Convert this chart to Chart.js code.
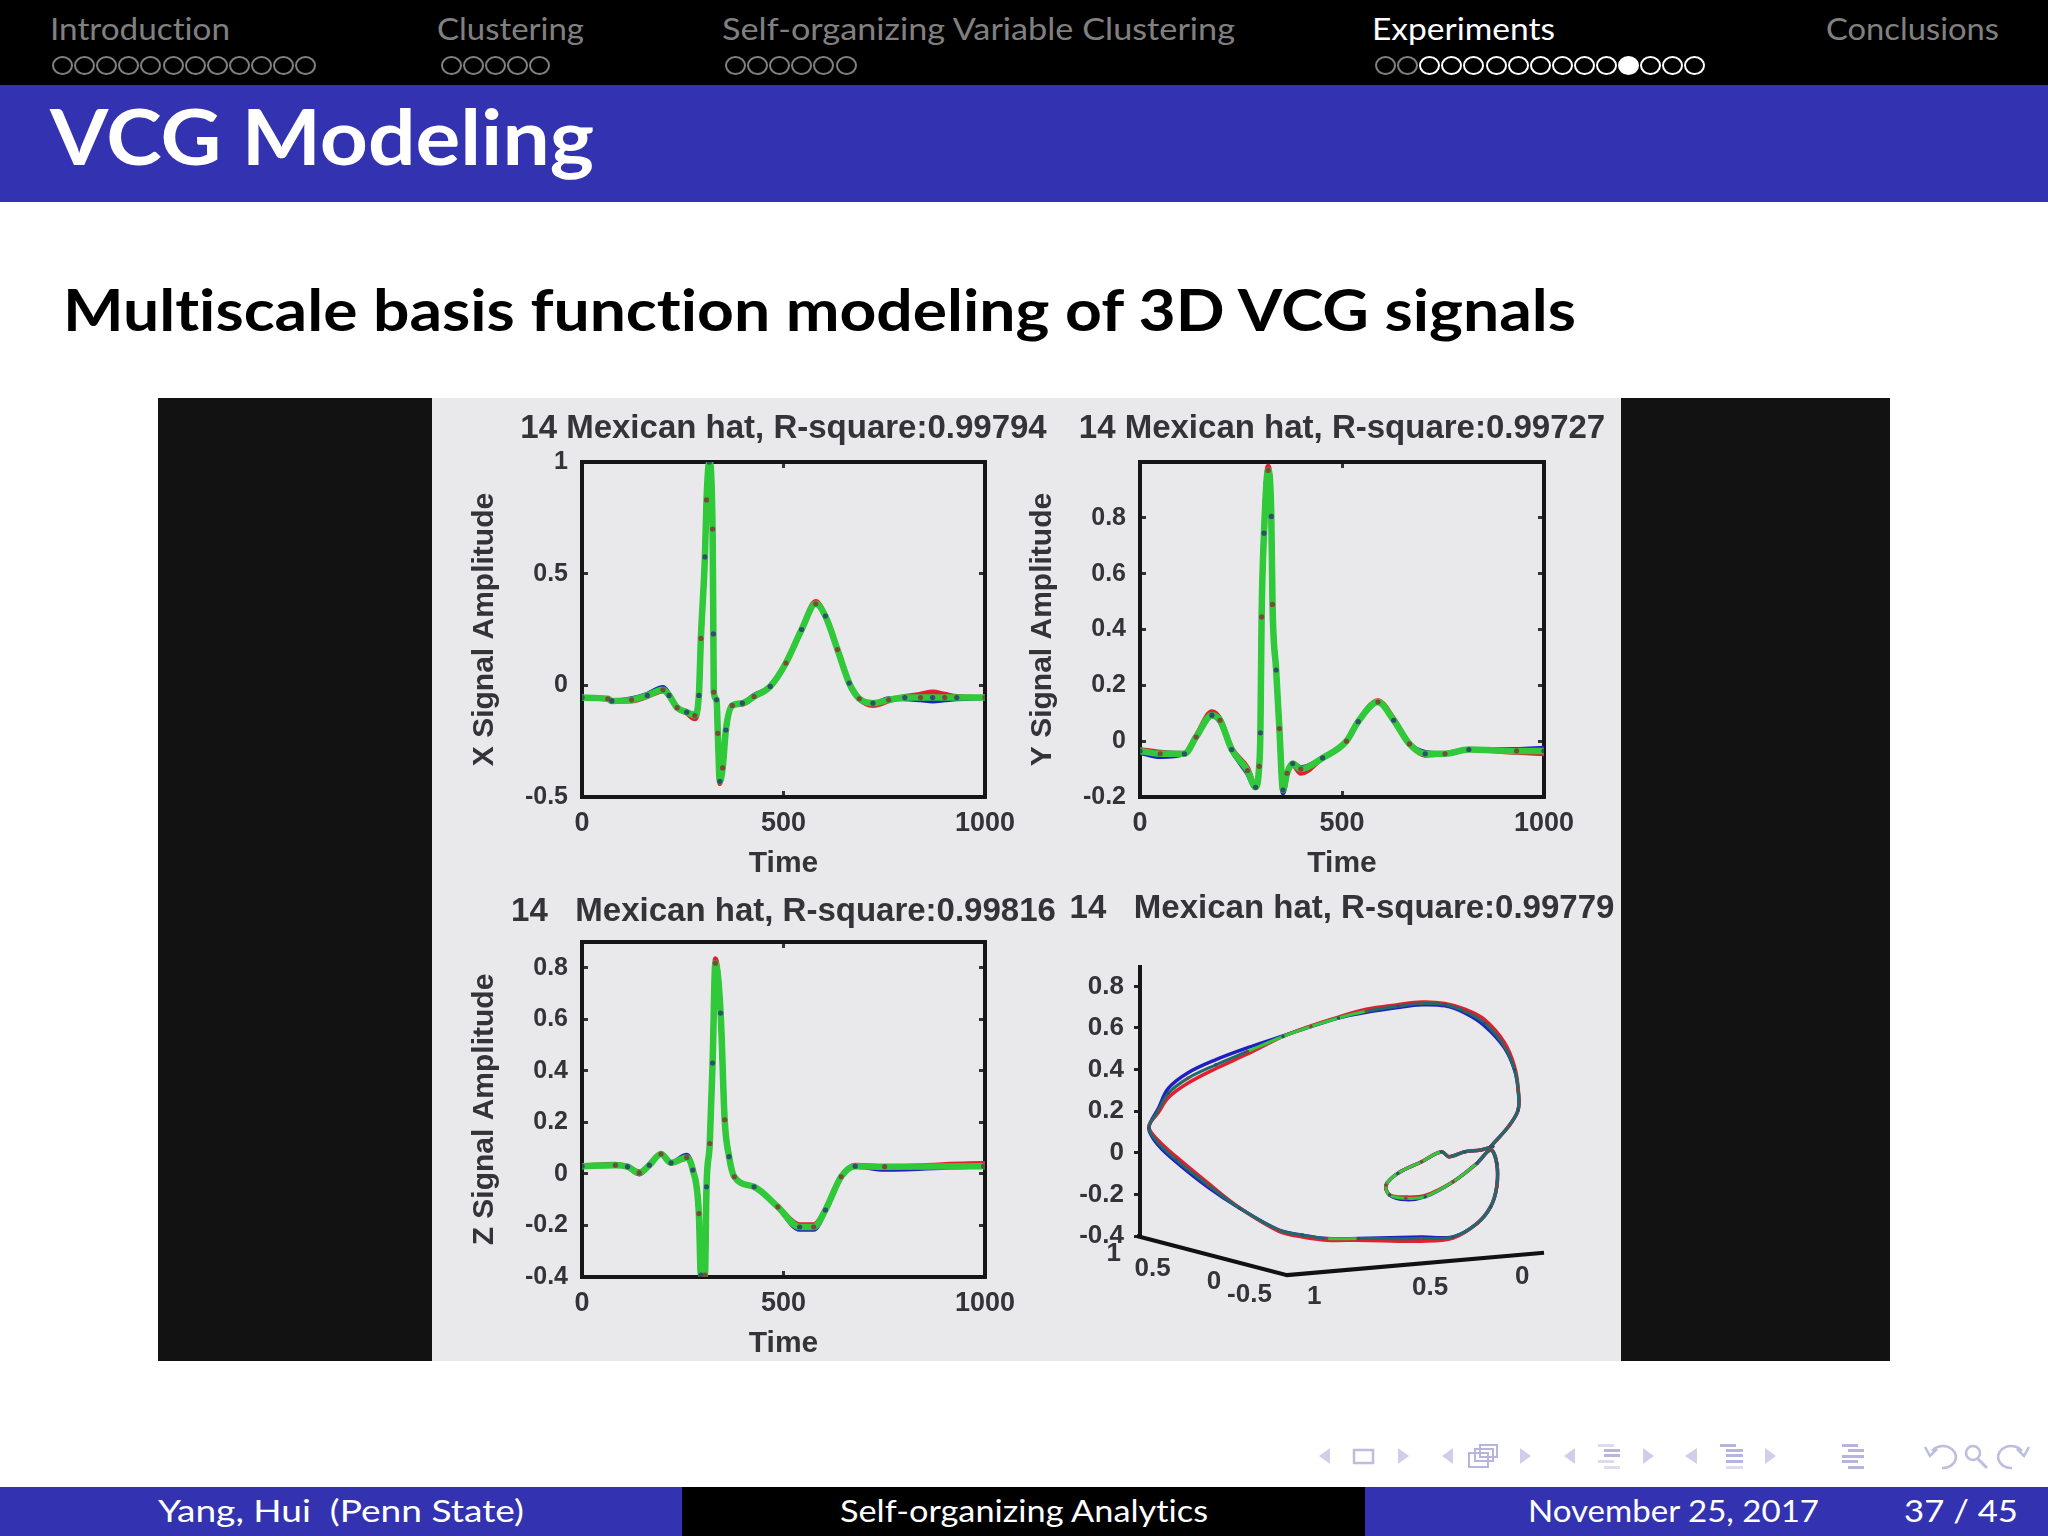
<!DOCTYPE html>
<html><head><meta charset="utf-8">
<script src="https://cdn.jsdelivr.net/npm/chart.js@4"></script>
<style>
html,body{margin:0;padding:0;background:#fff;}
#slide{position:relative;width:2048px;height:1536px;overflow:hidden;background:#fff;font-family:Lato,"Open Sans",sans-serif;font-variant-ligatures:none;}
.box{position:absolute;}
.lab{position:absolute;white-space:pre;transform-origin:left center;line-height:1;}
.dot{position:absolute;box-sizing:border-box;width:21px;height:19px;border-radius:50%;border:2px solid #808080;top:56px;}
canvas{position:absolute;filter:blur(0.7px);}
</style></head><body>
<div id="slide">
<div class="box" style="left:0;top:0;width:2048px;height:85px;background:#000"></div>
<div class="box" style="left:0;top:85px;width:2048px;height:117px;background:#3333b2"></div>
<div class="box" style="left:158px;top:398px;width:1732px;height:963px;background:#121212"></div>
<div class="box" style="left:432px;top:398px;width:1189px;height:963px;background:#e9e9eb"></div>
<div class="box" style="left:0;top:1487px;width:682px;height:49px;background:#3333b2"></div>
<div class="box" style="left:682px;top:1487px;width:683px;height:49px;background:#000"></div>
<div class="box" style="left:1365px;top:1487px;width:683px;height:49px;background:#3333b2"></div>
<svg class="box" style="left:0;top:0" width="2048" height="1536" fill="#cfcfe9" stroke="none">
 <g><path d="M1330 1448L1319 1456L1330 1464Z"/><rect x="1354" y="1450" width="19" height="13" fill="none" stroke="#bdbde0" stroke-width="2.5"/><path d="M1398 1448L1409 1456L1398 1464Z"/></g>
 <g><path d="M1453 1448L1442 1456L1453 1464Z"/><rect x="1469" y="1453" width="19" height="14" fill="#fff" stroke="#b5b5de" stroke-width="2"/><rect x="1475" y="1449" width="18" height="12" fill="none" stroke="#b5b5de" stroke-width="2"/><rect x="1480" y="1445" width="17" height="12" fill="none" stroke="#b5b5de" stroke-width="2"/><path d="M1520 1448L1531 1456L1520 1464Z"/></g>
 <g><path d="M1575 1448L1564 1456L1575 1464Z"/><rect x="1598" y="1444" width="16" height="3" fill="#dcdcee"/><rect x="1604" y="1449" width="16" height="3" fill="#b5b5de"/><rect x="1604" y="1454" width="16" height="3" fill="#b5b5de"/><rect x="1598" y="1460" width="16" height="3" fill="#dcdcee"/><rect x="1604" y="1466" width="16" height="3" fill="#dcdcee"/><path d="M1643 1448L1654 1456L1643 1464Z"/></g>
 <g><path d="M1697 1448L1685 1456L1697 1464Z"/><rect x="1720" y="1444" width="16" height="3" fill="#b5b5de"/><rect x="1726" y="1449" width="17" height="3" fill="#b5b5de"/><rect x="1726" y="1454" width="17" height="3" fill="#b5b5de"/><rect x="1726" y="1460" width="17" height="3" fill="#b5b5de"/><rect x="1726" y="1466" width="17" height="3" fill="#dcdcee"/><path d="M1765 1448L1776 1456L1765 1464Z"/></g>
 <g fill="#b5b5de"><rect x="1842" y="1444" width="16" height="3"/><rect x="1848" y="1449" width="16" height="3"/><rect x="1842" y="1455" width="22" height="3"/><rect x="1842" y="1460" width="16" height="3"/><rect x="1848" y="1466" width="16" height="3"/></g>
 <g fill="none" stroke="#bdbde0" stroke-width="2.5"><path d="M1932 1451A13 11 0 1 1 1942 1468"/><path d="M1925 1447L1930 1456L1937 1449"/><ellipse cx="1973" cy="1453" rx="7" ry="7"/><path d="M1978 1459L1987 1468" stroke-width="3"/><path d="M2022 1451A13 11 0 1 0 2012 1468"/><path d="M2029 1447L2024 1456L2017 1449"/></g>
</svg>
<canvas id="c1" width="701" height="480" style="left:433px;top:405px"></canvas>
<canvas id="c2" width="702" height="480" style="left:991px;top:405px"></canvas>
<canvas id="c3" width="701" height="482" style="left:433px;top:885px"></canvas>
<canvas id="c4" width="702" height="476" style="left:991px;top:885px"></canvas>
</div>
<script>
// ---------- panel 1: X signal ----------
const t1   =[0,64,74,123,162,201,216,236,260,280,290,295,305,309,316,324,326,327,334,337,342,349,357,373,398,427,467,506,545,580,604,634,663,688,722,761,801,840,870,900,930,1000];
const fit1 =[-.055,-.06,-.07,-.065,-.045,-.02,-.045,-.10,-.12,-.135,-.045,.21,.575,.83,1.0,.70,.23,-.03,-.065,-.215,-.43,-.37,-.2,-.09,-.08,-.05,-.005,.10,.25,.365,.31,.16,.01,-.06,-.08,-.065,-.055,-.055,-.055,-.055,-.055,-.055];
const sig1 =[-.055,-.06,-.07,-.06,-.04,-.01,-.04,-.10,-.12,-.13,-.045,.21,.575,.83,1.0,.70,.23,-.03,-.065,-.215,-.43,-.37,-.2,-.09,-.08,-.045,-.005,.10,.25,.365,.31,.16,.01,-.06,-.085,-.06,-.06,-.065,-.07,-.065,-.06,-.055];
const rec1 =[-.055,-.06,-.07,-.07,-.05,-.025,-.045,-.10,-.125,-.15,-.045,.21,.58,.83,1.0,.70,.23,-.03,-.065,-.215,-.44,-.37,-.2,-.09,-.085,-.05,-.005,.10,.25,.375,.31,.16,.01,-.06,-.09,-.07,-.05,-.04,-.03,-.04,-.05,-.055];
// ---------- panel 2: Y signal ----------
const t2   =[0,50,110,139,178,198,227,266,286,295,298,301,307,317,325,328,337,345,354,364,378,398,452,511,540,589,628,667,706,755,814,932,1000];
const fit2 =[-.035,-.045,-.045,.015,.093,.075,-.03,-.105,-.165,-.09,.03,.445,.745,.97,.805,.49,.255,.045,-.175,-.115,-.08,-.1,-.06,0,.07,.14,.075,-.01,-.045,-.045,-.03,-.035,-.035];
const sig2 =[-.04,-.055,-.045,.015,.09,.07,-.03,-.115,-.165,-.09,.03,.445,.76,.97,.805,.5,.255,.045,-.185,-.115,-.08,-.095,-.06,0,.07,.14,.075,-.01,-.04,-.045,-.03,-.03,-.025];
const rec2 =[-.03,-.04,-.045,.02,.105,.08,-.025,-.095,-.16,-.09,.03,.445,.745,.985,.80,.49,.255,.045,-.175,-.115,-.085,-.115,-.06,0,.07,.145,.08,-.01,-.05,-.045,-.03,-.04,-.045];
// ---------- panel 3: Z signal ----------
const t3   =[0,83,113,142,167,196,221,260,275,290,295,305,309,317,324,331,344,354,365,378,427,486,540,575,604,643,678,751,997,1000];
const fit3 =[.03,.034,.028,.004,.034,.077,.043,.064,.015,-.154,-.393,-.393,-.05,.118,.43,.818,.624,.21,.067,-.011,-.05,-.128,-.206,-.206,-.14,-.011,.03,.028,.03,.03];
const sig3 =[.03,.034,.028,0,.034,.077,.043,.072,.015,-.154,-.4,-.4,-.05,.118,.43,.818,.624,.21,.067,-.011,-.05,-.128,-.215,-.215,-.14,-.011,.03,.018,.03,.03];
const rec3 =[.03,.038,.028,.008,.034,.077,.043,.06,.015,-.154,-.39,-.39,-.05,.118,.43,.835,.624,.21,.067,-.011,-.05,-.128,-.197,-.197,-.14,-.011,.034,.028,.04,.04];
// ---------- panel 4: 3D loop, projected ----------
const px4  =[868,912,936,936,927,902,853,804,755,697,638,560,491,423,354,266,188,119,70,46,22,46,90,168,247,344,403,462,540,697,775,834,868,883,883,868,834,775,706,658,618,609,638,697,746,765,804,843,873];
const fit4 =[.03,.126,.206,.302,.399,.511,.623,.68,.712,.717,.704,.68,.648,.607,.559,.487,.423,.359,.286,.206,.118,.046,-.035,-.155,-.267,-.372,-.396,-.412,-.412,-.412,-.404,-.34,-.259,-.163,-.051,.013,-.051,-.139,-.211,-.219,-.203,-.155,-.099,-.043,.005,-.019,.005,.013,.03];
const sig4 =[.03,.126,.206,.302,.399,.505,.61,.672,.706,.711,.698,.675,.648,.607,.562,.505,.448,.385,.31,.215,.118,.035,-.045,-.165,-.267,-.372,-.396,-.412,-.412,-.405,-.404,-.34,-.259,-.163,-.051,.013,-.051,-.139,-.211,-.225,-.203,-.155,-.099,-.043,.005,-.019,.005,.013,.03];
const rec4 =[.03,.126,.206,.31,.415,.53,.64,.69,.718,.725,.712,.69,.652,.61,.559,.475,.405,.335,.265,.195,.125,.058,-.02,-.145,-.265,-.378,-.405,-.42,-.42,-.425,-.41,-.34,-.259,-.163,-.051,.013,-.051,-.139,-.205,-.213,-.203,-.155,-.099,-.043,.005,-.019,.005,.013,.03];
const floorX =[-8,364,1000];
const floorZ =[-.4,-.588,-.481];
const floorText =['1','0.5','0','-0.5','1','0.5','0'];
const floorTickX=[-65,31,183,271,431,718,946];
const floorTickZ=[-.484,-.556,-.62,-.685,-.693,-.648,-.596];
// ---------- tick labels and captions ----------
const xTicks=[0,500,1000];
const yTicks1=[-.5,0,.5,1];
const yTicks2=[-.2,0,.2,.4,.6,.8];
const yTicks3=[-.4,-.2,0,.2,.4,.6,.8];
const titles=['14 Mexican hat, R-square:0.99794','14 Mexican hat, R-square:0.99727','14   Mexican hat, R-square:0.99816','14   Mexican hat, R-square:0.99779'];
const yTitles=['X Signal Amplitude','Y Signal Amplitude','Z Signal Amplitude'];
const sectionNames=['Introduction','Clustering','Self-organizing Variable Clustering','Experiments','Conclusions'];
const sectionDots=[12,5,6,15,0];

const FF='"Liberation Sans",Arial,sans-serif', INK='#333338';
const GREEN='#2fc93a', BLUE='#2020c0', RED='#e02030', TEAL='#1f6a6a';
Chart.defaults.animation=false;
const pts=(a,b)=>a.map((x,i)=>({x,y:b[i]}));
const setTicks=arr=>s=>{s.ticks=arr.map(value=>({value}));};
const knotCol=c=>c.dataIndex%2?'#7a4a3a':'#2f4f6a';
const smooth={cubicInterpolationMode:'monotone',borderJoinStyle:'round',borderCapStyle:'round',pointRadius:0};
function series(x,f,s,r,lw,lwBack){
  return [
   {label:'knots',data:pts(x,f),showLine:false,pointRadius:2.6,pointBackgroundColor:knotCol,pointBorderWidth:0},
   {label:'fit',data:pts(x,f),borderColor:GREEN,borderWidth:lw,...smooth},
   {label:'model',data:pts(x,r),borderColor:RED,borderWidth:lwBack,...smooth},
   {label:'signal',data:pts(x,s),borderColor:BLUE,borderWidth:lwBack,...smooth}
  ];
}
function titleOpt(text,top,bottom){
  return {display:true,text,color:INK,font:{family:FF,size:33,weight:'bold',lineHeight:1.2},padding:{top,bottom}};
}
const gridOpt={drawOnChartArea:false,tickLength:-6,tickWidth:3,tickColor:'#333'};
const bord={display:true,color:'#161616',width:4};
function panel(id,x,f,s,r,yMin,yMax,yT,title,yTitle,pTop,pBot,botH,timePad){
  new Chart(document.getElementById(id),{type:'line',
   data:{datasets:series(x,f,s,r,6.5,5)},
   options:{responsive:false,devicePixelRatio:1,
    plugins:{legend:{display:false},tooltip:{enabled:false},title:titleOpt(title,pTop,pBot)},
    scales:{
     x:{type:'linear',position:'bottom',min:0,max:1000,afterBuildTicks:setTicks(xTicks),afterFit:a=>{a.height=botH;},
        grid:gridOpt,border:bord,
        ticks:{color:INK,font:{family:FF,size:27,weight:'bold'},padding:16,maxRotation:0,autoSkip:false,callback:v=>String(v)},
        title:{display:true,text:'Time',color:INK,font:{family:FF,size:30,weight:'bold',lineHeight:1.2},padding:timePad}},
     xt:{type:'linear',position:'top',min:0,max:1000,afterBuildTicks:setTicks([500]),afterFit:a=>{a.height=0;},
        grid:gridOpt,border:bord,ticks:{display:false}},
     y:{type:'linear',position:'left',min:yMin,max:yMax,afterBuildTicks:setTicks(yT),afterFit:a=>{a.width=149;},
        grid:gridOpt,border:bord,
        ticks:{color:INK,font:{family:FF,size:25,weight:'bold'},padding:20,autoSkip:false,callback:v=>String(v)},
        title:{display:true,text:yTitle,color:INK,font:{family:FF,size:30,weight:'bold',lineHeight:1.2},padding:34}},
     yr:{type:'linear',position:'right',min:yMin,max:yMax,afterBuildTicks:setTicks(yT),afterFit:a=>{a.width=149;},
        grid:gridOpt,border:bord,ticks:{display:false}}
    }}});
}
panel('c1',t1,fit1,sig1,rec1,-.5,1,yTicks1,titles[0],yTitles[0],4,13.4,88,3);
panel('c2',t2,fit2,sig2,rec2,-.2,1,yTicks2,titles[1],yTitles[1],4,13.4,88,3);
panel('c3',t3,fit3,sig3,rec3,-.4,.9,yTicks3,titles[2],yTitles[2],7,10.4,90,5);

const floorLabels={id:'floorLabels',afterDatasetsDraw(ch){
  const c=ch.ctx,X=ch.scales.x,Y=ch.scales.y;
  c.save();c.fillStyle=INK;c.font='bold 26px '+FF;c.textAlign='center';c.textBaseline='middle';
  floorText.forEach((t,i)=>c.fillText(t,X.getPixelForValue(floorTickX[i]),Y.getPixelForValue(floorTickZ[i])));
  c.restore();
}};
const ds4=series(px4,fit4,sig4,rec4,3,3.5);
ds4[0].pointRadius=1.7;
// the green trace shows through only on part of the loop; elsewhere the overlaid traces read dark teal
const greenFrom4=[11,27,36], greenTo4=[15,28,44];
const curve4={cubicInterpolationMode:'default',tension:.35};
ds4[1]={...ds4[1],...curve4,segment:{borderColor:c=>greenFrom4.some((a,k)=>c.p0DataIndex>=a&&c.p0DataIndex<greenTo4[k])?GREEN:TEAL}};
ds4[2]={...ds4[2],...curve4};
ds4[3]={...ds4[3],...curve4};
ds4.push({label:'floor',data:pts(floorX,floorZ),borderColor:'#111',borderWidth:4,pointRadius:0,tension:0});
ds4.forEach(d=>{d.clip=false;});
new Chart(document.getElementById('c4'),{type:'line',plugins:[floorLabels],
  data:{datasets:ds4},
  options:{responsive:false,devicePixelRatio:1,
   layout:{padding:{bottom:125}},
   plugins:{legend:{display:false},tooltip:{enabled:false},title:titleOpt(titles[3],4,38.4)},
   scales:{
    x:{type:'linear',display:false,min:0,max:1000},
    y:{type:'linear',position:'left',min:-.4,max:.893,afterBuildTicks:setTicks(yTicks3),afterFit:a=>{a.width=149;},
       grid:{drawOnChartArea:false,tickLength:6,tickWidth:3,tickColor:'#222'},border:{display:true,color:'#161616',width:4},
       ticks:{color:INK,font:{family:FF,size:26,weight:'bold'},padding:10,autoSkip:false,callback:v=>String(v)}},
    yr:{type:'linear',position:'right',min:-.4,max:.893,afterFit:a=>{a.width=149;},
       grid:{display:false},border:{display:false},ticks:{display:false}}
   }}});

// ---------- slide furniture ----------
const slide=document.getElementById('slide');
function lab(text,x,w,cy,size,weight,color){
  const e=document.createElement('div');e.className='lab';e.textContent=text;
  e.style.cssText=`left:${x}px;top:${cy-size/2}px;font-size:${size}px;font-weight:${weight};color:${color}`;
  slide.appendChild(e);
  const m=e.getBoundingClientRect().width;
  e.style.transform=`scaleX(${w/m})`;
}
const secX=[50,437,722,1372,1826], secW=[180,147,513,183,173], dotX=[52,441,725,1375,0];
sectionNames.forEach((n,i)=>{
  lab(n,secX[i],secW[i],28,31,400,i===3?'#fff':'#808080');
  for(let k=0;k<sectionDots[i];k++){
    const d=document.createElement('div');d.className='dot';d.style.left=(dotX[i]+k*22.1)+'px';
    if(i===3&&k>=2){d.style.borderColor='#fff';}
    if(i===3&&k===11){d.style.background='#fff';}
    slide.appendChild(d);
  }
});
lab('VCG Modeling',50,544,136,76,700,'#fff');
lab('Multiscale basis function modeling of 3D VCG signals',63,1513,309,58,700,'#000');
lab('Yang, Hui  (Penn State)',158,366,1510,31,400,'#fff');
lab('Self-organizing Analytics',840,368,1510,31,400,'#fff');
lab('November 25, 2017',1528,291,1510,31,400,'#fff');
lab('37 / 45',1904,114,1510,31,400,'#fff');
</script>
</body></html>
